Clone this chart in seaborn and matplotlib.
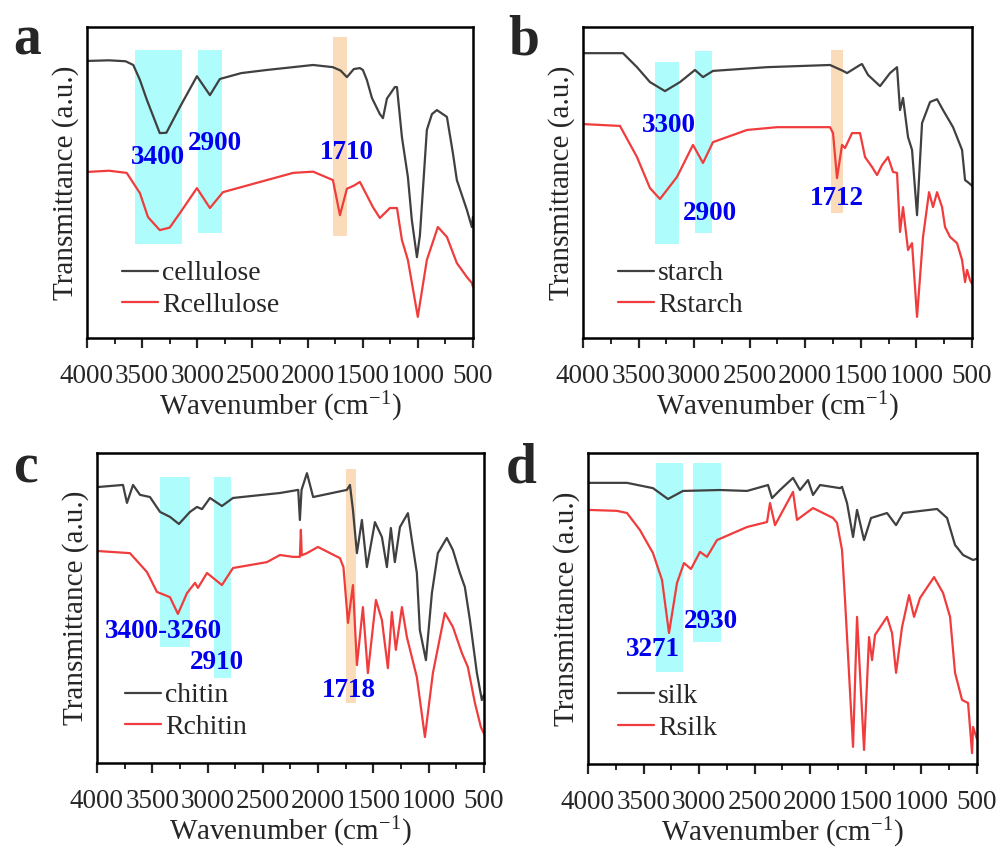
import numpy as np
import pandas as pd
import seaborn as sns
import matplotlib.pyplot as plt
from matplotlib.ticker import MultipleLocator

# panel a
cellulose_wn = [4000, 3800, 3650, 3580, 3520, 3456, 3340, 3280, 3157, 3003, 2885, 2795, 2600, 2368, 1950, 1770, 1700,
                1643, 1580, 1525, 1498, 1462, 1416, 1344, 1316, 1280, 1208, 1189, 1144, 1090, 1054, 1008, 981, 918, 872,
                827, 736, 682, 646, 555, 510, 500]
cellulose_t = [89.1, 89.3, 89.0, 87.8, 83.0, 76.5, 65.9, 66.0, 74.3, 84.2, 78.1, 83.3, 85.2, 86.2, 87.8, 87.1, 86.0,
               83.9, 86.5, 86.8, 86.2, 83.0, 77.2, 72.0, 70.7, 77.0, 80.7, 80.7, 64.6, 51.8, 37.9, 26.0, 33.0, 66.9, 72.0,
               73.3, 71.1, 59.5, 50.8, 41.2, 35.7, 38.9]
rcellulose_wn = [4000, 3800, 3640, 3520, 3447, 3340, 3250, 3157, 3003, 2885, 2767, 2368, 2130, 1950, 1770, 1706, 1643,
                 1580, 1525, 1407, 1344, 1253, 1189, 1144, 1090, 1000, 918, 818, 736, 646, 555, 510, 500]
rcellulose_t = [53.4, 53.8, 53.1, 46.6, 38.9, 34.7, 35.5, 40.2, 48.2, 41.8, 46.9, 50.8, 53.1, 53.5, 50.8, 39.5, 48.0,
                49.0, 50.2, 42.1, 38.6, 41.8, 41.8, 31.5, 25.1, 6.8, 25.1, 35.7, 32.5, 24.1, 19.6, 17.7, 16.5]

# panel b
starch_wn = [4000, 3640, 3514, 3397, 3262, 3127, 2992, 2920, 2830, 2344, 1777, 1660, 1624, 1507, 1489, 1435, 1327, 1237,
             1174, 1147, 1120, 1075, 1039, 994, 949, 877, 814, 760, 670, 589, 562, 526, 500]
starch_t = [91.6, 91.6, 87.1, 82.3, 79.4, 82.3, 86.2, 83.9, 85.9, 87.1, 87.8, 85.9, 85.2, 87.8, 88.1, 84.6, 81.0, 85.2,
            87.1, 73.3, 77.2, 64.6, 60.5, 39.5, 69.1, 75.9, 76.8, 73.3, 67.8, 60.5, 50.8, 49.8, 49.0]
rstarch_wn = [4000, 3667, 3514, 3397, 3307, 3154, 3010, 2920, 2830, 2524, 2254, 1777, 1750, 1714, 1669, 1642, 1579, 1507,
              1462, 1399, 1354, 1309, 1255, 1210, 1174, 1147, 1120, 1075, 1039, 994, 940, 886, 850, 814, 769, 742, 697,
              634, 589, 562, 544, 517, 500]
rstarch_t = [68.8, 68.2, 58.2, 48.2, 44.7, 51.8, 62.1, 56.3, 63.0, 66.9, 67.8, 67.8, 65.9, 51.4, 62.1, 61.1, 65.9, 65.9,
             58.2, 55.0, 52.4, 55.6, 58.2, 53.4, 53.1, 34.1, 42.1, 28.3, 30.5, 6.8, 32.5, 46.9, 42.1, 46.9, 42.1, 35.7, 32.5,
             30.5, 25.1, 18.0, 21.9, 18.6, 17.5]

# panel c
chitin_wn = [4000, 3765, 3729, 3674, 3611, 3521, 3430, 3340, 3259, 3159, 3096, 3050, 2978, 2870, 2770, 2345, 2180, 2165,
             2150, 2101, 2045, 1740, 1712, 1685, 1649, 1604, 1559, 1486, 1423, 1378, 1342, 1306, 1260, 1188, 1152, 1107,
             1080, 1025, 971, 917, 836, 781, 718, 673, 627, 564, 519, 500]
chitin_t = [89.0, 89.7, 83.9, 89.7, 86.5, 85.8, 81.0, 79.4, 77.1, 81.0, 82.6, 81.9, 85.5, 82.9, 85.5, 87.1, 88.1, 78.4,
            88.1, 93.5, 85.8, 88.1, 89.7, 81.6, 67.7, 78.4, 63.2, 77.7, 72.9, 63.2, 75.8, 64.8, 76.1, 80.6, 71.9, 61.3,
            42.9, 33.2, 54.8, 67.7, 72.6, 68.7, 61.3, 56.8, 46.1, 29.0, 20.3, 22.0]
rchitin_wn = [4000, 3702, 3548, 3458, 3340, 3268, 3186, 3114, 3087, 3005, 2870, 2770, 2463, 2345, 2228, 2165, 2156, 2148,
              2101, 2002, 1803, 1771, 1730, 1685, 1649, 1595, 1550, 1477, 1423, 1369, 1333, 1297, 1242, 1197, 1107, 1034,
              962, 854, 781, 700, 646, 582, 528, 500]
rchitin_t = [68.4, 67.7, 61.6, 55.2, 53.5, 48.1, 54.8, 58.1, 56.5, 61.3, 57.4, 62.9, 64.8, 67.1, 66.5, 66.5, 75.2, 67.0,
             67.7, 69.7, 66.1, 63.2, 45.2, 57.4, 31.6, 50.3, 29.0, 52.6, 46.1, 30.6, 48.7, 36.5, 50.3, 40.6, 27.7, 8.4,
             29.0, 48.4, 43.9, 35.5, 31.0, 19.4, 11.6, 9.5]

# panel d
silk_wn = [4000, 3649, 3415, 3280, 3145, 2812, 2569, 2380, 2344, 2272, 2155, 2092, 2020, 1975, 1912, 1732, 1714, 1669,
           1615, 1579, 1516, 1453, 1309, 1228, 1165, 859, 769, 697, 625, 535, 500]
silk_t = [90.4, 90.4, 88.7, 85.2, 87.8, 88.1, 87.8, 89.7, 85.5, 88.1, 92.0, 88.1, 91.3, 86.5, 89.7, 88.7, 89.1, 83.9,
          73.0, 81.7, 72.0, 79.1, 80.7, 76.8, 80.7, 82.0, 79.1, 70.4, 67.2, 65.6, 66.0]
rsilk_wn = [4000, 3739, 3649, 3532, 3415, 3334, 3271, 3199, 3136, 3073, 2992, 2929, 2839, 2569, 2389, 2362, 2317, 2155,
            2119, 1975, 1795, 1759, 1714, 1687, 1615, 1579, 1516, 1471, 1444, 1417, 1309, 1264, 1228, 1174, 1111, 1066,
            1012, 886, 805, 742, 697, 634, 580, 544, 535, 500]
rsilk_t = [81.7, 81.4, 80.7, 75.2, 67.8, 59.2, 42.1, 58.2, 64.6, 62.7, 68.2, 66.6, 72.0, 76.2, 77.8, 83.9, 76.8, 87.5,
           78.5, 82.3, 79.1, 77.5, 68.8, 52.7, 5.5, 47.3, 4.5, 40.8, 33.4, 41.5, 47.3, 42.1, 29.3, 44.0, 54.3, 47.3,
           53.4, 60.1, 55.0, 47.3, 29.3, 20.6, 19.6, 3.5, 11.9, 8.0]

# highlighted bands: (high wn, low wn, bottom, top)
bands_a = [(3560, 3140, 30.2, 92.6, 'cyan'), (2994, 2776, 33.8, 92.6, 'cyan'), (1770, 1643, 32.8, 96.8, 'orange')]
bands_b = [(3352, 3136, 30.2, 88.7, 'cyan'), (2992, 2839, 33.8, 92.3, 'cyan'), (1768, 1660, 40.2, 92.6, 'orange')]
bands_c = [(3430, 3159, 37.4, 92.3, 'cyan'), (2942, 2788, 27.4, 92.3, 'cyan'), (1749, 1658, 19.4, 94.8, 'orange')]
bands_d = [(3388, 3145, 29.6, 96.8, 'cyan'), (3055, 2803, 39.2, 96.8, 'cyan')]

peaks_a = [('3400', 3356, 57.9), ('2900', 2840, 62.7), ('1710', 1643, 59.5)]
peaks_b = [('3300', 3226, 68.5), ('2900', 2857, 40.2), ('1712', 1714, 45.0)]
peaks_c = [('3400-3260', 3403, 42.3), ('2910', 2915, 32.3), ('1718', 1721, 23.5)]
peaks_d = [('3271', 3415, 36.7), ('2930', 2893, 45.7)]

BAND_COLORS = {'cyan': '#aefdfc', 'orange': '#fbdcba'}
RAW_COLOR = '#404040'
MOD_COLOR = '#f03c3c'

sns.set_style('ticks')
plt.rcParams['font.family'] = ['Liberation Serif', 'DejaVu Serif']
plt.rcParams['mathtext.fontset'] = 'custom'
plt.rcParams['mathtext.rm'] = 'Liberation Serif'


def draw_panel(ax, letter_xy, letter, raw, mod, names, bands, peaks, leg_anchor):
    for hi, lo, b, t, c in bands:
        ax.fill_between([hi, lo], b, t, color=BAND_COLORS[c], lw=0, zorder=0)
    df = pd.concat([
        pd.DataFrame({'wn': raw[0], 't': raw[1], 'sample': names[0]}),
        pd.DataFrame({'wn': mod[0], 't': mod[1], 'sample': names[1]}),
    ])
    sns.lineplot(data=df, x='wn', y='t', hue='sample', palette=[RAW_COLOR, MOD_COLOR],
                 linewidth=1.6, ax=ax, zorder=2)
    for txt, w, v in peaks:
        ax.text(w, v, txt, color='#0000ee', fontsize=19.5, fontweight='bold', ha='center', va='center', zorder=3)
    ax.set_xlim(4000, 500)
    ax.set_ylim(0, 100)
    ax.xaxis.set_major_locator(MultipleLocator(500))
    ax.xaxis.set_minor_locator(MultipleLocator(250))
    ax.tick_params(axis='x', which='major', direction='out', length=7, width=1.6, labelsize=19.5, pad=12)
    ax.tick_params(axis='x', which='minor', direction='out', length=4, width=1.4)
    ax.tick_params(axis='y', left=False, labelleft=False)
    ax.set_xticks([4000, 3500, 3000, 2500, 2000, 1500, 1000, 500])
    ax.set_xticklabels(['4000', '3500', '3000', '2500', '2000', '1500', '1000', '500'])
    for s in ax.spines.values():
        s.set_visible(True)
        s.set_linewidth(1.8)
        s.set_color('black')
    ax.set_xlabel('Wavenumber (cm$\\mathregular{^{-1}}$)', fontsize=21, labelpad=0)
    ax.set_ylabel('Transmittance (a.u.)', fontsize=21, labelpad=6)
    leg = ax.legend(loc='lower left', bbox_to_anchor=leg_anchor, frameon=False, fontsize=20,
                    handlelength=1.3, handletextpad=0.15, labelspacing=0.22, borderpad=0, borderaxespad=0)
    for h in leg.get_lines():
        h.set_linewidth(1.6)
    ax.figure.text(letter_xy[0], letter_xy[1], letter, fontsize=40, fontweight='bold', ha='center', va='center')


fig = plt.figure(figsize=(10.02, 8.48), dpi=100)
ax_a = fig.add_axes([0.0868, 0.6014, 0.3852, 0.3667])
ax_b = fig.add_axes([0.5818, 0.6014, 0.3882, 0.3667])
ax_c = fig.add_axes([0.0968, 0.1002, 0.3862, 0.3656])
ax_d = fig.add_axes([0.5868, 0.0991, 0.3882, 0.3667])

draw_panel(ax_a, (0.027, 0.952), 'a', (cellulose_wn, cellulose_t), (rcellulose_wn, rcellulose_t),
           ['cellulose', 'Rcellulose'], bands_a, peaks_a, (0.09, 0.065))
draw_panel(ax_b, (0.523, 0.952), 'b', (starch_wn, starch_t), (rstarch_wn, rstarch_t),
           ['starch', 'Rstarch'], bands_b, peaks_b, (0.09, 0.065))
draw_panel(ax_c, (0.025, 0.448), 'c', (chitin_wn, chitin_t), (rchitin_wn, rchitin_t),
           ['chitin', 'Rchitin'], bands_c, peaks_c, (0.072, 0.075))
draw_panel(ax_d, (0.52, 0.448), 'd', (silk_wn, silk_t), (rsilk_wn, rsilk_t),
           ['silk', 'Rsilk'], bands_d, peaks_d, (0.077, 0.075))

fig.savefig('out.png', dpi=100)
